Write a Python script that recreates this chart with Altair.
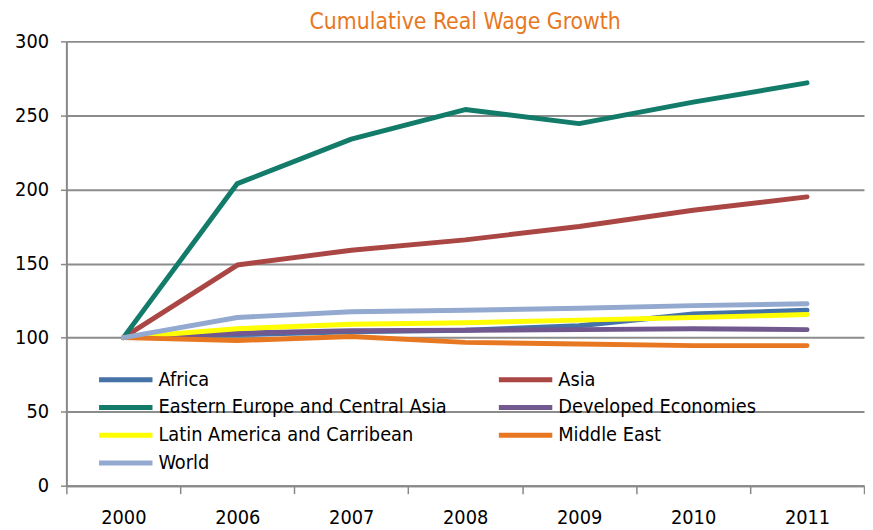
import altair as alt
import pandas as pd

years = ["2000", "2006", "2007", "2008", "2009", "2010", "2011"]
series = ["Africa", "Asia", "Eastern Europe and Central Asia", "Developed Economies",
          "Latin America and Carribean", "Middle East", "World"]
colors = ["#4572A7", "#AA4643", "#137B6A", "#71588F", "#FFFF00", "#E87722", "#93A9CF"]
# legend fills column by column: list in the order that reads row by row
legend_order = ["Africa", "Eastern Europe and Central Asia", "Latin America and Carribean", "World",
                "Asia", "Developed Economies", "Middle East"]

africa = [100, 102, 104, 105, 108, 116, 118.5]
asia = [100, 149, 159, 166, 175, 186, 195]
eeca = [100, 204, 234, 254, 244.5, 259, 272]
developed = [100, 103, 104.7, 105, 105.4, 106, 105.4]
latam = [100, 106, 109, 110, 111.8, 113.6, 115.6]
mideast = [100, 98, 100.8, 96.8, 95.7, 94.6, 94.6]
world = [100, 113.6, 117.4, 118.5, 119.8, 121.6, 122.9]

vals = [africa, asia, eeca, developed, latam, mideast, world]
rows = []
for s, v in zip(series, vals):
    for y, val in zip(years, v):
        rows.append({"Year": y, "Region": s, "Value": val})
df = pd.DataFrame(rows)

FONT = "Liberation Sans Narrow, Arial Narrow, DejaVu Sans Condensed, Liberation Sans, sans-serif"
color_map = dict(zip(series, colors))

chart = alt.Chart(df).mark_line(strokeWidth=5, strokeCap="round", strokeJoin="round").encode(
    x=alt.X("Year:O", sort=years, bandPosition=0.5,
            scale=alt.Scale(type="band", paddingInner=0, paddingOuter=0),
            axis=alt.Axis(title=None, labelAngle=0, tickBand="extent", tickSize=8,
                          labelPadding=14, labelFontSize=20, labelFont=FONT,
                          labelColor="#000000", domainColor="#888888", domainWidth=2,
                          tickColor="#888888", tickWidth=1.5, grid=False)),
    y=alt.Y("Value:Q", scale=alt.Scale(domain=[0, 300], nice=False),
            axis=alt.Axis(title=None, values=[0, 50, 100, 150, 200, 250, 300],
                          labelFontSize=20, labelFont=FONT, labelColor="#000000",
                          domainColor="#888888", domainWidth=2, tickColor="#888888",
                          tickSize=6, tickWidth=1.5, gridColor="#8c8c8c", gridWidth=2,
                          labelPadding=12, minExtent=54, maxExtent=54)),
    color=alt.Color("Region:N",
                    scale=alt.Scale(domain=legend_order, range=[color_map[s] for s in legend_order]),
                    legend=alt.Legend(title=None, orient="none", legendX=44, legendY=326,
                                      columns=2, symbolType="M-2,0H2", symbolSize=729,
                                      symbolStrokeWidth=5, labelFontSize=20, labelFont=FONT,
                                      labelColor="#000000", rowPadding=2, columnPadding=42,
                                      labelOffset=17, labelLimit=400)),
    detail="Region:N",
).properties(
    width=806, height=449,
    title=alt.TitleParams("Cumulative Real Wage Growth", color="#E87722", fontSize=23,
                          font=FONT, fontWeight="normal", offset=-2),
    padding={"left": 5, "top": 0, "right": 0, "bottom": 0},
).configure_view(stroke=None)

chart.save("out.html", embed_options={"renderer": "svg", "actions": False})
